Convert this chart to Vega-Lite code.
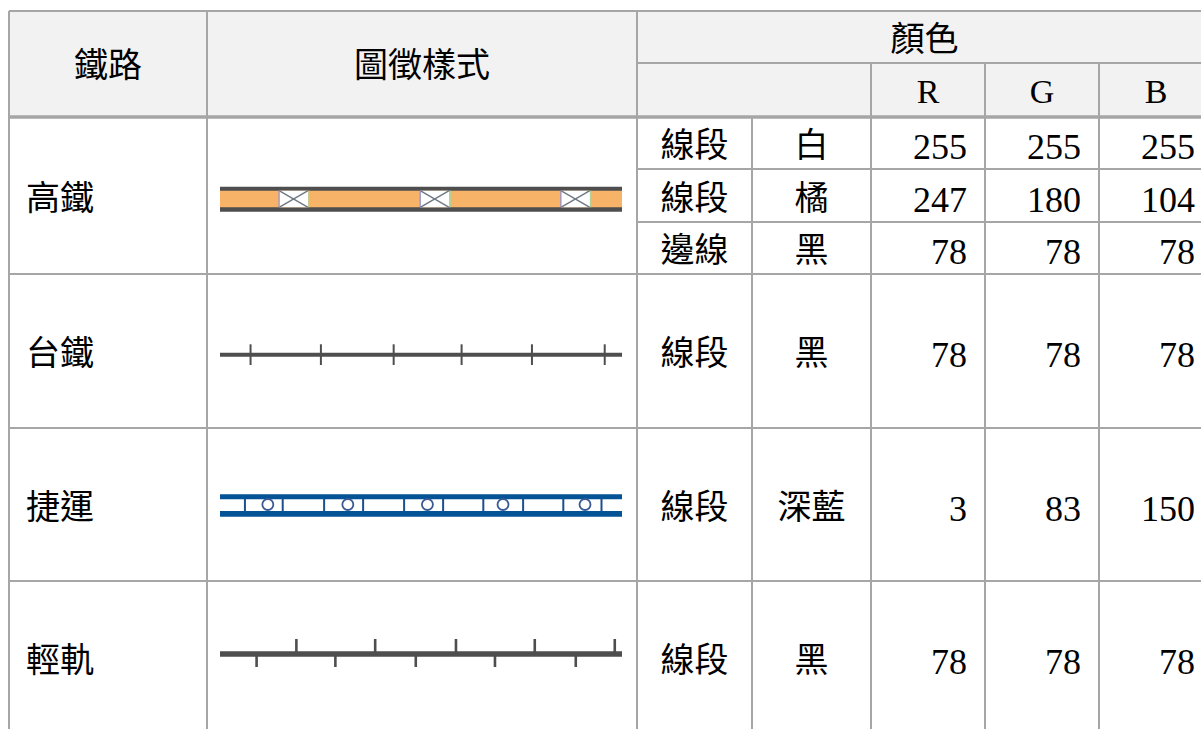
{
  "$schema": "https://vega.github.io/schema/vega-lite/v6.json",
  "width": 1201,
  "height": 729,
  "padding": 0,
  "autosize": {"type": "none"},
  "background": "#ffffff",
  "config": {"view": {"stroke": null}, "axis": {"disable": true}},
  "datasets": {
    "鐵路顏色": [
      {"鐵路": "高鐵", "圖徵": "線段", "顏色": "白", "R": 255, "G": 255, "B": 255},
      {"鐵路": "高鐵", "圖徵": "線段", "顏色": "橘", "R": 247, "G": 180, "B": 104},
      {"鐵路": "高鐵", "圖徵": "邊線", "顏色": "黑", "R": 78, "G": 78, "B": 78},
      {"鐵路": "台鐵", "圖徵": "線段", "顏色": "黑", "R": 78, "G": 78, "B": 78},
      {"鐵路": "捷運", "圖徵": "線段", "顏色": "深藍", "R": 3, "G": 83, "B": 150},
      {"鐵路": "輕軌", "圖徵": "線段", "顏色": "黑", "R": 78, "G": 78, "B": 78}
    ],
    "格線": [
      {"欄起": 0, "欄迄": 0, "列起": -1.5, "列迄": 6.5},
      {"欄起": 1, "欄迄": 1, "列起": -1.5, "列迄": 6.5},
      {"欄起": 2, "欄迄": 2, "列起": -1.5, "列迄": 6.5},
      {"欄起": 3, "欄迄": 3, "列起": 0.5, "列迄": 6.5},
      {"欄起": 4, "欄迄": 4, "列起": -0.5, "列迄": 6.5},
      {"欄起": 5, "欄迄": 5, "列起": -0.5, "列迄": 6.5},
      {"欄起": 6, "欄迄": 6, "列起": -0.5, "列迄": 6.5},
      {"欄起": 0, "欄迄": 7, "列起": -1.5, "列迄": -1.5},
      {"欄起": 2, "欄迄": 7, "列起": -0.5, "列迄": -0.5},
      {"欄起": 2, "欄迄": 7, "列起": 1.5, "列迄": 1.5},
      {"欄起": 2, "欄迄": 7, "列起": 2.5, "列迄": 2.5},
      {"欄起": 0, "欄迄": 7, "列起": 3.5, "列迄": 3.5},
      {"欄起": 0, "欄迄": 7, "列起": 4.5, "列迄": 4.5},
      {"欄起": 0, "欄迄": 7, "列起": 5.5, "列迄": 5.5}
    ],
    "高鐵窗": [
      {"起": 14.7, "迄": 21.9},
      {"起": 49.8, "迄": 57.0},
      {"起": 84.8, "迄": 92.0}
    ],
    "台鐵刻度": [
      {"位置": 7.6}, {"位置": 25.1}, {"位置": 43.2}, {"位置": 60.1}, {"位置": 77.6}, {"位置": 95.7}
    ],
    "捷運刻度": [
      {"位置": 6.2}, {"位置": 15.6}, {"位置": 25.9}, {"位置": 35.6}, {"位置": 45.8},
      {"位置": 55.5}, {"位置": 65.5}, {"位置": 75.4}, {"位置": 85.4}, {"位置": 94.9}
    ],
    "捷運站": [
      {"位置": 11.9}, {"位置": 31.8}, {"位置": 51.6}, {"位置": 70.4}, {"位置": 90.8}
    ],
    "輕軌上": [
      {"位置": 19.0}, {"位置": 38.6}, {"位置": 58.7}, {"位置": 78.3}, {"位置": 98.2}
    ],
    "輕軌下": [
      {"位置": 9.1}, {"位置": 28.7}, {"位置": 48.7}, {"位置": 68.4}, {"位置": 88.5}
    ]
  },
  "resolve": {"scale": {"x": "independent"}},
  "layer": [
    {
      "layer": [
        {
          "data": {"values": [{}]},
          "mark": {"type": "rect", "color": "#f2f2f2"},
          "encoding": {
            "x": {"datum": 0, "type": "quantitative", "scale": {"type": "linear", "domain": [0, 1, 2, 3, 4, 5, 6, 7], "range": [9, 207, 637, 752, 871, 985, 1099, 1213], "nice": false, "zero": false}},
            "x2": {"datum": 7},
            "y": {"datum": -1.5, "type": "quantitative", "scale": {"type": "linear", "domain": [-1.5, -0.5, 0.5, 1.5, 2.5, 3.5, 4.5, 5.5, 6.5], "range": [11, 63, 117, 169, 222, 274, 428, 581, 735], "nice": false, "zero": false}},
            "y2": {"datum": 0.5}
          }
        },
        {
          "data": {"name": "格線"},
          "mark": {"type": "rule", "color": "#a6a6a6", "strokeWidth": 2},
          "encoding": {
            "x": {"field": "欄起", "type": "quantitative", "scale": {"type": "linear", "domain": [0, 1, 2, 3, 4, 5, 6, 7], "range": [9, 207, 637, 752, 871, 985, 1099, 1213], "nice": false, "zero": false}},
            "x2": {"field": "欄迄"},
            "y": {"field": "列起", "type": "quantitative", "scale": {"type": "linear", "domain": [-1.5, -0.5, 0.5, 1.5, 2.5, 3.5, 4.5, 5.5, 6.5], "range": [11, 63, 117, 169, 222, 274, 428, 581, 735], "nice": false, "zero": false}},
            "y2": {"field": "列迄"}
          }
        },
        {
          "data": {"values": [{}]},
          "mark": {"type": "rule", "color": "#a6a6a6", "strokeWidth": 3.5},
          "encoding": {
            "x": {"datum": 0, "type": "quantitative", "scale": {"type": "linear", "domain": [0, 1, 2, 3, 4, 5, 6, 7], "range": [9, 207, 637, 752, 871, 985, 1099, 1213], "nice": false, "zero": false}},
            "x2": {"datum": 7},
            "y": {"datum": 0.5, "type": "quantitative", "scale": {"type": "linear", "domain": [-1.5, -0.5, 0.5, 1.5, 2.5, 3.5, 4.5, 5.5, 6.5], "range": [11, 63, 117, 169, 222, 274, 428, 581, 735], "nice": false, "zero": false}},
            "y2": {"datum": 0.5}
          }
        },
        {
          "data": {"values": [{}]},
          "mark": {"type": "text", "font": "Noto Sans CJK TC", "fontSize": 34, "color": "#000000", "baseline": "middle", "align": "center", "dy": 4},
          "encoding": {
            "x": {"datum": 0.5, "type": "quantitative", "scale": {"type": "linear", "domain": [0, 1, 2, 3, 4, 5, 6, 7], "range": [9, 207, 637, 752, 871, 985, 1099, 1213], "nice": false, "zero": false}},
            "y": {"datum": -0.5, "type": "quantitative", "scale": {"type": "linear", "domain": [-1.5, -0.5, 0.5, 1.5, 2.5, 3.5, 4.5, 5.5, 6.5], "range": [11, 63, 117, 169, 222, 274, 428, 581, 735], "nice": false, "zero": false}},
            "text": {"value": "鐵路"}
          }
        },
        {
          "data": {"values": [{}]},
          "mark": {"type": "text", "font": "Noto Sans CJK TC", "fontSize": 34, "color": "#000000", "baseline": "middle", "align": "center", "dy": 4},
          "encoding": {
            "x": {"datum": 1.5, "type": "quantitative", "scale": {"type": "linear", "domain": [0, 1, 2, 3, 4, 5, 6, 7], "range": [9, 207, 637, 752, 871, 985, 1099, 1213], "nice": false, "zero": false}},
            "y": {"datum": -0.5, "type": "quantitative", "scale": {"type": "linear", "domain": [-1.5, -0.5, 0.5, 1.5, 2.5, 3.5, 4.5, 5.5, 6.5], "range": [11, 63, 117, 169, 222, 274, 428, 581, 735], "nice": false, "zero": false}},
            "text": {"value": "圖徵樣式"}
          }
        },
        {
          "data": {"values": [{}]},
          "mark": {"type": "text", "font": "Noto Sans CJK TC", "fontSize": 34, "color": "#000000", "baseline": "middle", "align": "center", "dy": 4},
          "encoding": {
            "x": {"datum": 4.47, "type": "quantitative", "scale": {"type": "linear", "domain": [0, 1, 2, 3, 4, 5, 6, 7], "range": [9, 207, 637, 752, 871, 985, 1099, 1213], "nice": false, "zero": false}},
            "y": {"datum": -1, "type": "quantitative", "scale": {"type": "linear", "domain": [-1.5, -0.5, 0.5, 1.5, 2.5, 3.5, 4.5, 5.5, 6.5], "range": [11, 63, 117, 169, 222, 274, 428, 581, 735], "nice": false, "zero": false}},
            "text": {"value": "顏色"}
          }
        },
        {
          "data": {"values": [{"欄": 4.5, "標題": "R"}, {"欄": 5.5, "標題": "G"}, {"欄": 6.5, "標題": "B"}]},
          "mark": {"type": "text", "font": "Liberation Serif", "fontSize": 34, "color": "#000000", "baseline": "middle", "align": "center", "dy": 3},
          "encoding": {
            "x": {"field": "欄", "type": "quantitative", "scale": {"type": "linear", "domain": [0, 1, 2, 3, 4, 5, 6, 7], "range": [9, 207, 637, 752, 871, 985, 1099, 1213], "nice": false, "zero": false}},
            "y": {"datum": 0, "type": "quantitative", "scale": {"type": "linear", "domain": [-1.5, -0.5, 0.5, 1.5, 2.5, 3.5, 4.5, 5.5, 6.5], "range": [11, 63, 117, 169, 222, 274, 428, 581, 735], "nice": false, "zero": false}},
            "text": {"field": "標題"}
          }
        },
        {
          "data": {"name": "鐵路顏色"},
          "transform": [
            {"window": [{"op": "row_number", "as": "列"}]},
            {"aggregate": [{"op": "mean", "field": "列", "as": "列"}], "groupby": ["鐵路"]}
          ],
          "mark": {"type": "text", "font": "Noto Sans CJK TC", "fontSize": 34, "color": "#000000", "baseline": "middle", "align": "left", "dx": 17, "dy": 4},
          "encoding": {
            "x": {"datum": 0, "type": "quantitative", "scale": {"type": "linear", "domain": [0, 1, 2, 3, 4, 5, 6, 7], "range": [9, 207, 637, 752, 871, 985, 1099, 1213], "nice": false, "zero": false}},
            "y": {"field": "列", "type": "quantitative", "scale": {"type": "linear", "domain": [-1.5, -0.5, 0.5, 1.5, 2.5, 3.5, 4.5, 5.5, 6.5], "range": [11, 63, 117, 169, 222, 274, 428, 581, 735], "nice": false, "zero": false}},
            "text": {"field": "鐵路"}
          }
        },
        {
          "data": {"name": "鐵路顏色"},
          "transform": [{"window": [{"op": "row_number", "as": "列"}]}],
          "mark": {"type": "text", "font": "Noto Sans CJK TC", "fontSize": 34, "color": "#000000", "baseline": "middle", "align": "center", "dy": 4},
          "encoding": {
            "x": {"datum": 2.5, "type": "quantitative", "scale": {"type": "linear", "domain": [0, 1, 2, 3, 4, 5, 6, 7], "range": [9, 207, 637, 752, 871, 985, 1099, 1213], "nice": false, "zero": false}},
            "y": {"field": "列", "type": "quantitative", "scale": {"type": "linear", "domain": [-1.5, -0.5, 0.5, 1.5, 2.5, 3.5, 4.5, 5.5, 6.5], "range": [11, 63, 117, 169, 222, 274, 428, 581, 735], "nice": false, "zero": false}},
            "text": {"field": "圖徵"}
          }
        },
        {
          "data": {"name": "鐵路顏色"},
          "transform": [{"window": [{"op": "row_number", "as": "列"}]}],
          "mark": {"type": "text", "font": "Noto Sans CJK TC", "fontSize": 34, "color": "#000000", "baseline": "middle", "align": "center", "dy": 4},
          "encoding": {
            "x": {"datum": 3.5, "type": "quantitative", "scale": {"type": "linear", "domain": [0, 1, 2, 3, 4, 5, 6, 7], "range": [9, 207, 637, 752, 871, 985, 1099, 1213], "nice": false, "zero": false}},
            "y": {"field": "列", "type": "quantitative", "scale": {"type": "linear", "domain": [-1.5, -0.5, 0.5, 1.5, 2.5, 3.5, 4.5, 5.5, 6.5], "range": [11, 63, 117, 169, 222, 274, 428, 581, 735], "nice": false, "zero": false}},
            "text": {"field": "顏色"}
          }
        },
        {
          "data": {"name": "鐵路顏色"},
          "transform": [{"window": [{"op": "row_number", "as": "列"}]}],
          "mark": {"type": "text", "font": "Liberation Serif", "fontSize": 36, "color": "#000000", "baseline": "middle", "align": "right", "dx": -18, "dy": 5},
          "encoding": {
            "x": {"datum": 5, "type": "quantitative", "scale": {"type": "linear", "domain": [0, 1, 2, 3, 4, 5, 6, 7], "range": [9, 207, 637, 752, 871, 985, 1099, 1213], "nice": false, "zero": false}},
            "y": {"field": "列", "type": "quantitative", "scale": {"type": "linear", "domain": [-1.5, -0.5, 0.5, 1.5, 2.5, 3.5, 4.5, 5.5, 6.5], "range": [11, 63, 117, 169, 222, 274, 428, 581, 735], "nice": false, "zero": false}},
            "text": {"field": "R", "type": "quantitative"}
          }
        },
        {
          "data": {"name": "鐵路顏色"},
          "transform": [{"window": [{"op": "row_number", "as": "列"}]}],
          "mark": {"type": "text", "font": "Liberation Serif", "fontSize": 36, "color": "#000000", "baseline": "middle", "align": "right", "dx": -18, "dy": 5},
          "encoding": {
            "x": {"datum": 6, "type": "quantitative", "scale": {"type": "linear", "domain": [0, 1, 2, 3, 4, 5, 6, 7], "range": [9, 207, 637, 752, 871, 985, 1099, 1213], "nice": false, "zero": false}},
            "y": {"field": "列", "type": "quantitative", "scale": {"type": "linear", "domain": [-1.5, -0.5, 0.5, 1.5, 2.5, 3.5, 4.5, 5.5, 6.5], "range": [11, 63, 117, 169, 222, 274, 428, 581, 735], "nice": false, "zero": false}},
            "text": {"field": "G", "type": "quantitative"}
          }
        },
        {
          "data": {"name": "鐵路顏色"},
          "transform": [{"window": [{"op": "row_number", "as": "列"}]}],
          "mark": {"type": "text", "font": "Liberation Serif", "fontSize": 36, "color": "#000000", "baseline": "middle", "align": "right", "dx": -18, "dy": 5},
          "encoding": {
            "x": {"datum": 7, "type": "quantitative", "scale": {"type": "linear", "domain": [0, 1, 2, 3, 4, 5, 6, 7], "range": [9, 207, 637, 752, 871, 985, 1099, 1213], "nice": false, "zero": false}},
            "y": {"field": "列", "type": "quantitative", "scale": {"type": "linear", "domain": [-1.5, -0.5, 0.5, 1.5, 2.5, 3.5, 4.5, 5.5, 6.5], "range": [11, 63, 117, 169, 222, 274, 428, 581, 735], "nice": false, "zero": false}},
            "text": {"field": "B", "type": "quantitative"}
          }
        }
      ]
    },
    {
      "layer": [
        {
          "data": {"values": [{}]},
          "mark": {"type": "rule", "color": "#4e4e4e", "strokeWidth": 25, "yOffset": 3.7, "y2Offset": 3.7},
          "encoding": {
            "x": {"datum": 0, "type": "quantitative", "scale": {"type": "linear", "domain": [0, 100], "range": [220, 622], "nice": false, "zero": false}},
            "x2": {"datum": 100},
            "y": {"datum": 2, "type": "quantitative", "scale": {"type": "linear", "domain": [-1.5, -0.5, 0.5, 1.5, 2.5, 3.5, 4.5, 5.5, 6.5], "range": [11, 63, 117, 169, 222, 274, 428, 581, 735], "nice": false, "zero": false}},
            "y2": {"datum": 2}
          }
        },
        {
          "data": {"values": [{}]},
          "mark": {"type": "rule", "color": "#f7b468", "strokeWidth": 16.6, "yOffset": 3.5, "y2Offset": 3.5},
          "encoding": {
            "x": {"datum": 0, "type": "quantitative", "scale": {"type": "linear", "domain": [0, 100], "range": [220, 622], "nice": false, "zero": false}},
            "x2": {"datum": 100},
            "y": {"datum": 2, "type": "quantitative", "scale": {"type": "linear", "domain": [-1.5, -0.5, 0.5, 1.5, 2.5, 3.5, 4.5, 5.5, 6.5], "range": [11, 63, 117, 169, 222, 274, 428, 581, 735], "nice": false, "zero": false}},
            "y2": {"datum": 2}
          }
        },
        {
          "data": {"name": "高鐵窗"},
          "mark": {"type": "rect", "color": "#ffffff", "yOffset": -4.8, "y2Offset": 11.8},
          "encoding": {
            "x": {"field": "起", "type": "quantitative", "scale": {"type": "linear", "domain": [0, 100], "range": [220, 622], "nice": false, "zero": false}},
            "x2": {"field": "迄"},
            "y": {"datum": 2, "type": "quantitative", "scale": {"type": "linear", "domain": [-1.5, -0.5, 0.5, 1.5, 2.5, 3.5, 4.5, 5.5, 6.5], "range": [11, 63, 117, 169, 222, 274, 428, 581, 735], "nice": false, "zero": false}},
            "y2": {"datum": 2}
          }
        },
        {
          "data": {"name": "高鐵窗"},
          "mark": {"type": "rule", "color": "#6f7884", "strokeWidth": 1.4, "yOffset": -4.8, "y2Offset": 11.8},
          "encoding": {
            "x": {"field": "起", "type": "quantitative", "scale": {"type": "linear", "domain": [0, 100], "range": [220, 622], "nice": false, "zero": false}},
            "x2": {"field": "迄"},
            "y": {"datum": 2, "type": "quantitative", "scale": {"type": "linear", "domain": [-1.5, -0.5, 0.5, 1.5, 2.5, 3.5, 4.5, 5.5, 6.5], "range": [11, 63, 117, 169, 222, 274, 428, 581, 735], "nice": false, "zero": false}},
            "y2": {"datum": 2}
          }
        },
        {
          "data": {"name": "高鐵窗"},
          "mark": {"type": "rule", "color": "#6f7884", "strokeWidth": 1.4, "yOffset": 11.8, "y2Offset": -4.8},
          "encoding": {
            "x": {"field": "起", "type": "quantitative", "scale": {"type": "linear", "domain": [0, 100], "range": [220, 622], "nice": false, "zero": false}},
            "x2": {"field": "迄"},
            "y": {"datum": 2, "type": "quantitative", "scale": {"type": "linear", "domain": [-1.5, -0.5, 0.5, 1.5, 2.5, 3.5, 4.5, 5.5, 6.5], "range": [11, 63, 117, 169, 222, 274, 428, 581, 735], "nice": false, "zero": false}},
            "y2": {"datum": 2}
          }
        },
        {
          "data": {"name": "高鐵窗"},
          "mark": {"type": "rule", "color": "#8c8cd2", "strokeWidth": 1.2, "yOffset": -4.8, "y2Offset": 11.8},
          "encoding": {
            "x": {"field": "起", "type": "quantitative", "scale": {"type": "linear", "domain": [0, 100], "range": [220, 622], "nice": false, "zero": false}},
            "y": {"datum": 2, "type": "quantitative", "scale": {"type": "linear", "domain": [-1.5, -0.5, 0.5, 1.5, 2.5, 3.5, 4.5, 5.5, 6.5], "range": [11, 63, 117, 169, 222, 274, 428, 581, 735], "nice": false, "zero": false}},
            "y2": {"datum": 2}
          }
        },
        {
          "data": {"name": "高鐵窗"},
          "mark": {"type": "rule", "color": "#9fd8a0", "strokeWidth": 1.2, "xOffset": 1, "yOffset": -4.8, "y2Offset": 11.8},
          "encoding": {
            "x": {"field": "迄", "type": "quantitative", "scale": {"type": "linear", "domain": [0, 100], "range": [220, 622], "nice": false, "zero": false}},
            "y": {"datum": 2, "type": "quantitative", "scale": {"type": "linear", "domain": [-1.5, -0.5, 0.5, 1.5, 2.5, 3.5, 4.5, 5.5, 6.5], "range": [11, 63, 117, 169, 222, 274, 428, 581, 735], "nice": false, "zero": false}},
            "y2": {"datum": 2}
          }
        },
        {
          "data": {"values": [{}]},
          "mark": {"type": "rule", "color": "#4e4e4e", "strokeWidth": 4, "yOffset": 3.7, "y2Offset": 3.7},
          "encoding": {
            "x": {"datum": 0, "type": "quantitative", "scale": {"type": "linear", "domain": [0, 100], "range": [220, 622], "nice": false, "zero": false}},
            "x2": {"datum": 100},
            "y": {"datum": 4, "type": "quantitative", "scale": {"type": "linear", "domain": [-1.5, -0.5, 0.5, 1.5, 2.5, 3.5, 4.5, 5.5, 6.5], "range": [11, 63, 117, 169, 222, 274, 428, 581, 735], "nice": false, "zero": false}},
            "y2": {"datum": 4}
          }
        },
        {
          "data": {"name": "台鐵刻度"},
          "mark": {"type": "rule", "color": "#4e4e4e", "strokeWidth": 2, "yOffset": -6.7, "y2Offset": 14},
          "encoding": {
            "x": {"field": "位置", "type": "quantitative", "scale": {"type": "linear", "domain": [0, 100], "range": [220, 622], "nice": false, "zero": false}},
            "y": {"datum": 4, "type": "quantitative", "scale": {"type": "linear", "domain": [-1.5, -0.5, 0.5, 1.5, 2.5, 3.5, 4.5, 5.5, 6.5], "range": [11, 63, 117, 169, 222, 274, 428, 581, 735], "nice": false, "zero": false}},
            "y2": {"datum": 4}
          }
        },
        {
          "data": {"values": [{}]},
          "mark": {"type": "rule", "color": "#035396", "strokeWidth": 5, "yOffset": -7.7, "y2Offset": -7.7},
          "encoding": {
            "x": {"datum": 0, "type": "quantitative", "scale": {"type": "linear", "domain": [0, 100], "range": [220, 622], "nice": false, "zero": false}},
            "x2": {"datum": 100},
            "y": {"datum": 5, "type": "quantitative", "scale": {"type": "linear", "domain": [-1.5, -0.5, 0.5, 1.5, 2.5, 3.5, 4.5, 5.5, 6.5], "range": [11, 63, 117, 169, 222, 274, 428, 581, 735], "nice": false, "zero": false}},
            "y2": {"datum": 5}
          }
        },
        {
          "data": {"values": [{}]},
          "mark": {"type": "rule", "color": "#035396", "strokeWidth": 5.7, "yOffset": 9.4, "y2Offset": 9.4},
          "encoding": {
            "x": {"datum": 0, "type": "quantitative", "scale": {"type": "linear", "domain": [0, 100], "range": [220, 622], "nice": false, "zero": false}},
            "x2": {"datum": 100},
            "y": {"datum": 5, "type": "quantitative", "scale": {"type": "linear", "domain": [-1.5, -0.5, 0.5, 1.5, 2.5, 3.5, 4.5, 5.5, 6.5], "range": [11, 63, 117, 169, 222, 274, 428, 581, 735], "nice": false, "zero": false}},
            "y2": {"datum": 5}
          }
        },
        {
          "data": {"name": "捷運刻度"},
          "mark": {"type": "rule", "color": "#1b4f8e", "strokeWidth": 2, "yOffset": -6, "y2Offset": 7},
          "encoding": {
            "x": {"field": "位置", "type": "quantitative", "scale": {"type": "linear", "domain": [0, 100], "range": [220, 622], "nice": false, "zero": false}},
            "y": {"datum": 5, "type": "quantitative", "scale": {"type": "linear", "domain": [-1.5, -0.5, 0.5, 1.5, 2.5, 3.5, 4.5, 5.5, 6.5], "range": [11, 63, 117, 169, 222, 274, 428, 581, 735], "nice": false, "zero": false}},
            "y2": {"datum": 5}
          }
        },
        {
          "data": {"name": "捷運站"},
          "mark": {"type": "point", "shape": "circle", "filled": false, "size": 121, "color": "#3a5a94", "strokeWidth": 1.8, "opacity": 1},
          "encoding": {
            "x": {"field": "位置", "type": "quantitative", "scale": {"type": "linear", "domain": [0, 100], "range": [220, 622], "nice": false, "zero": false}},
            "y": {"datum": 5, "type": "quantitative", "scale": {"type": "linear", "domain": [-1.5, -0.5, 0.5, 1.5, 2.5, 3.5, 4.5, 5.5, 6.5], "range": [11, 63, 117, 169, 222, 274, 428, 581, 735], "nice": false, "zero": false}}
          }
        },
        {
          "data": {"values": [{}]},
          "mark": {"type": "rule", "color": "#4e4e4e", "strokeWidth": 5.5, "yOffset": -4, "y2Offset": -4},
          "encoding": {
            "x": {"datum": 0, "type": "quantitative", "scale": {"type": "linear", "domain": [0, 100], "range": [220, 622], "nice": false, "zero": false}},
            "x2": {"datum": 100},
            "y": {"datum": 6, "type": "quantitative", "scale": {"type": "linear", "domain": [-1.5, -0.5, 0.5, 1.5, 2.5, 3.5, 4.5, 5.5, 6.5], "range": [11, 63, 117, 169, 222, 274, 428, 581, 735], "nice": false, "zero": false}},
            "y2": {"datum": 6}
          }
        },
        {
          "data": {"name": "輕軌上"},
          "mark": {"type": "rule", "color": "#4e4e4e", "strokeWidth": 2.6, "yOffset": -19, "y2Offset": -5},
          "encoding": {
            "x": {"field": "位置", "type": "quantitative", "scale": {"type": "linear", "domain": [0, 100], "range": [220, 622], "nice": false, "zero": false}},
            "y": {"datum": 6, "type": "quantitative", "scale": {"type": "linear", "domain": [-1.5, -0.5, 0.5, 1.5, 2.5, 3.5, 4.5, 5.5, 6.5], "range": [11, 63, 117, 169, 222, 274, 428, 581, 735], "nice": false, "zero": false}},
            "y2": {"datum": 6}
          }
        },
        {
          "data": {"name": "輕軌下"},
          "mark": {"type": "rule", "color": "#4e4e4e", "strokeWidth": 2.6, "yOffset": -5, "y2Offset": 9},
          "encoding": {
            "x": {"field": "位置", "type": "quantitative", "scale": {"type": "linear", "domain": [0, 100], "range": [220, 622], "nice": false, "zero": false}},
            "y": {"datum": 6, "type": "quantitative", "scale": {"type": "linear", "domain": [-1.5, -0.5, 0.5, 1.5, 2.5, 3.5, 4.5, 5.5, 6.5], "range": [11, 63, 117, 169, 222, 274, 428, 581, 735], "nice": false, "zero": false}},
            "y2": {"datum": 6}
          }
        }
      ]
    }
  ]
}
